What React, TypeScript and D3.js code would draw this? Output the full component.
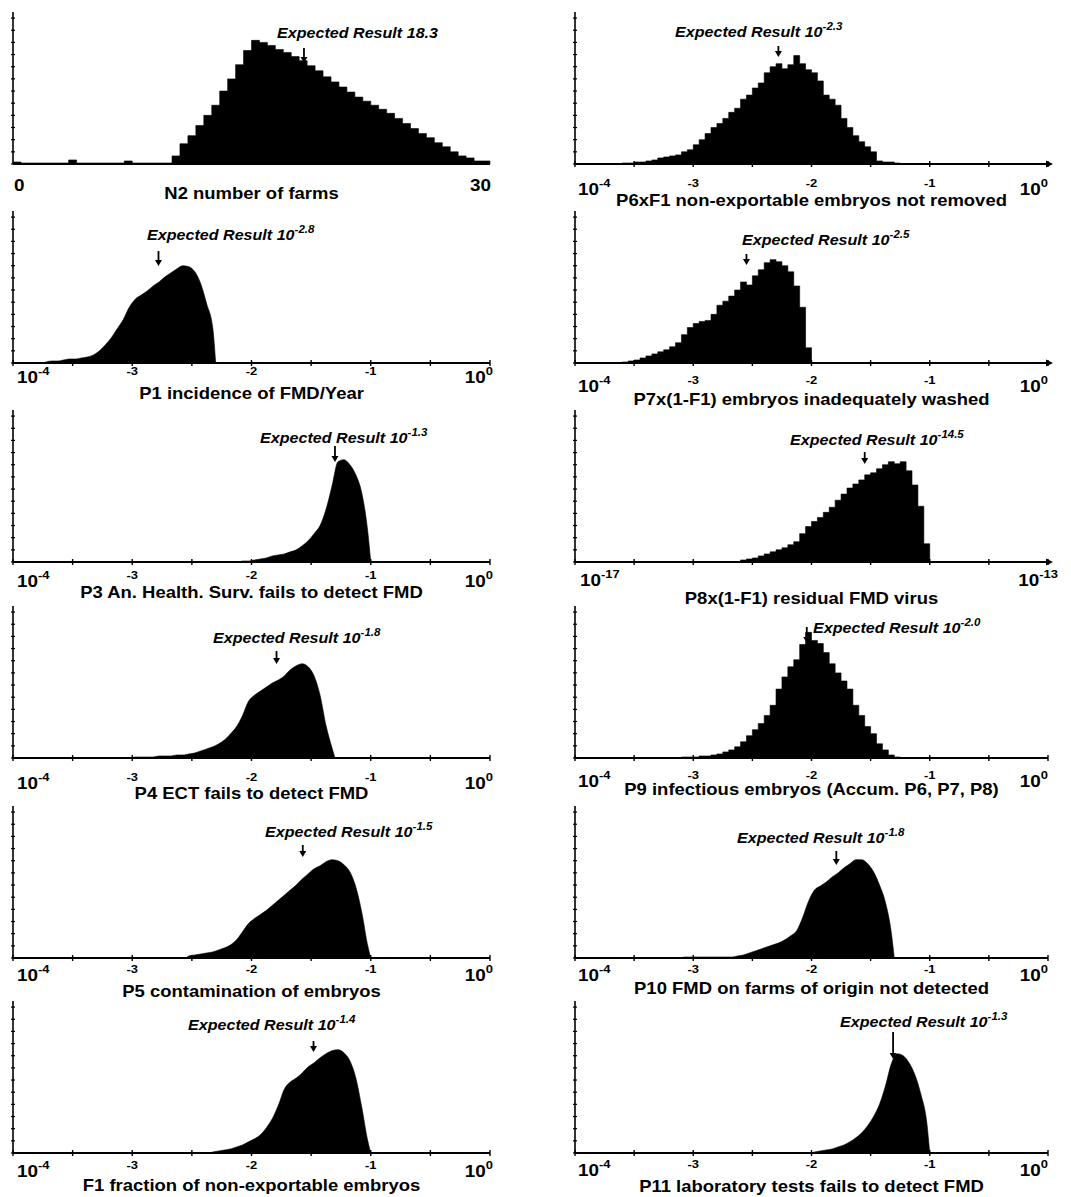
import React from "react";
import * as d3 from "d3";

// ---------- DATA (histogram heights, arbitrary count units; x in log10 for log panels) ----------
const N2_START = 0;
const N2_BIN = 0.5;
const N2_COUNTS = [
  2, 1, 1, 1, 1, 1, 1, 4, 1, 1, 1, 1, 1, 1, 3, 1, 1, 1, 1, 1,
  8, 20, 28, 38, 48, 58, 72, 84, 98, 112,
  122, 120, 117, 113, 110, 106, 102, 97, 92, 86,
  81, 76, 71, 66, 62, 58, 54, 50, 45, 40,
  35, 30, 26, 21, 17, 12, 8, 6, 3, 3,
];

const LOG_BIN = 0.05;

const P1_START = -3.75;
const P1_COUNTS = [1, 2, 2, 3, 4, 4, 5, 6, 8, 12, 18, 25, 34, 43, 55, 63, 67, 71, 76, 80, 85, 89, 93, 96, 95, 90, 78, 58, 35];

const P3_START = -2.1;
const P3_COUNTS = [1, 1, 2, 3, 4, 6, 7, 8, 10, 12, 16, 21, 28, 36, 52, 75, 99, 101, 96, 86, 68, 30];

const P4_START = -3.0;
const P4_COUNTS = [1, 1, 1, 1, 2, 2, 2, 3, 3, 4, 5, 7, 9, 11, 14, 18, 24, 31, 42, 56, 62, 66, 70, 74, 77, 81, 87, 91, 93, 90, 81, 62, 32, 10];

const P5_START = -2.55;
const P5_COUNTS = [2, 3, 4, 5, 6, 8, 10, 13, 18, 26, 34, 39, 43, 47, 52, 57, 62, 67, 72, 78, 83, 88, 91, 95, 97, 96, 92, 85, 70, 45, 12];

const F1_START = -2.35;
const F1_COUNTS = [1, 2, 3, 4, 6, 8, 11, 14, 18, 25, 34, 47, 63, 70, 74, 79, 85, 89, 94, 98, 101, 102, 99, 91, 74, 45, 12];

const P6_START = -3.6;
const P6_COUNTS = [1, 1, 2, 2, 3, 4, 6, 7, 8, 9, 12, 14, 19, 24, 30, 36, 40, 45, 51, 55, 64, 68, 75, 80, 90, 96, 99, 94, 98, 107, 99, 93, 90, 82, 68, 64, 58, 45, 36, 28, 22, 17, 12, 3, 2, 2, 1];

const P7_START = -3.6;
const P7_COUNTS = [1, 2, 3, 5, 7, 9, 11, 13, 16, 20, 28, 35, 39, 41, 42, 48, 57, 61, 66, 72, 80, 77, 86, 92, 99, 102, 100, 96, 90, 76, 55, 15];

const P8_START = -15.6;
const P8_COUNTS = [2, 3, 4, 6, 8, 10, 12, 14, 17, 20, 28, 35, 40, 44, 49, 54, 61, 67, 73, 77, 81, 86, 88, 92, 96, 99, 97, 99, 90, 76, 55, 18];

const P9_START = -3.1;
const P9_COUNTS = [1, 1, 1, 2, 2, 3, 4, 6, 8, 11, 16, 22, 28, 34, 42, 52, 68, 80, 90, 97, 112, 124, 116, 113, 104, 93, 84, 76, 68, 52, 42, 31, 24, 14, 8, 3, 1];

const P10_START = -3.1;
const P10_COUNTS = [1, 1, 1, 1, 1, 1, 1, 1, 1, 2, 3, 5, 7, 9, 11, 13, 15, 18, 22, 27, 40, 56, 67, 71, 75, 80, 84, 89, 93, 97, 97, 93, 85, 72, 55, 25];

const P11_START = -2.0;
const P11_COUNTS = [1, 2, 3, 4, 6, 8, 11, 15, 20, 27, 36, 48, 66, 88, 98, 96, 89, 77, 58, 30];

const TITLES = [
  "N2 number of farms",
  "P6xF1 non-exportable embryos not removed",
  "P1 incidence of FMD/Year",
  "P7x(1-F1) embryos inadequately washed",
  "P3 An. Health. Surv. fails to detect FMD",
  "P8x(1-F1) residual FMD virus",
  "P4 ECT fails to detect FMD",
  "P9 infectious embryos (Accum. P6, P7, P8)",
  "P5 contamination of embryos",
  "P10 FMD on farms of origin not detected",
  "F1 fraction of non-exportable embryos",
  "P11 laboratory tests fails to detect FMD",
];

// expected results: text shown, and where the arrow points
const EXPECTED_TEXT = ["18.3", "-2.3", "-2.8", "-2.5", "-1.3", "-14.5", "-1.8", "-2.0", "-1.5", "-1.8", "-1.4", "-1.3"];
const EXPECTED_ARROW = [18.3, -2.28, -2.78, -2.55, -1.3, -14.55, -1.79, -2.04, -1.57, -1.79, -1.48, -1.31];

const LOG_DOMAIN: [number, number] = [-4, 0];
const P8_DOMAIN: [number, number] = [-17, -13];
const N2_DOMAIN: [number, number] = [0, 30];

// ---------- LAYOUT ----------
const W = 1071;
const H = 1197;
const COL_X: [number, number][] = [
  [13, 490],
  [575, 1048],
];
const ROW_BASE = [164, 363, 562, 758, 958, 1153];
const AXIS_H = 152;
const FONT = "'Liberation Sans', Arial, Helvetica, sans-serif";
const STRETCH_TITLE = 1.12;
const STRETCH_LABEL = 1.15;
const STRETCH_TICK = 1.18;

type Panel = {
  col: number;
  row: number;
  kind: "lin" | "log";
  smooth: boolean;
  domain: [number, number];
  start: number;
  bin: number;
  counts: number[];
  idx: number;
  labelX: number;
  labelY: number;
  arrowY: [number, number];
  interior: boolean;
  axisArrow: boolean;
  leftLabelDx: number;
  rightLabelDx: number;
  tickDy: number;
  titleDy: number;
};

const PANELS: Panel[] = [
  { col: 0, row: 0, kind: "lin", smooth: false, domain: N2_DOMAIN, start: N2_START, bin: N2_BIN, counts: N2_COUNTS, idx: 0, labelX: 277, labelY: 38, arrowY: [48, 62], interior: false, axisArrow: false, leftLabelDx: 1, rightLabelDx: 1, tickDy: 27, titleDy: 35 },
  { col: 1, row: 0, kind: "log", smooth: false, domain: LOG_DOMAIN, start: P6_START, bin: LOG_BIN, counts: P6_COUNTS, idx: 1, labelX: 675, labelY: 37, arrowY: [46, 56], interior: true, axisArrow: true, leftLabelDx: 3, rightLabelDx: 0, tickDy: 31, titleDy: 42 },
  { col: 0, row: 1, kind: "log", smooth: true, domain: LOG_DOMAIN, start: P1_START, bin: LOG_BIN, counts: P1_COUNTS, idx: 2, labelX: 147, labelY: 240, arrowY: [251, 265], interior: true, axisArrow: false, leftLabelDx: 4, rightLabelDx: 3, tickDy: 20, titleDy: 36 },
  { col: 1, row: 1, kind: "log", smooth: false, domain: LOG_DOMAIN, start: P7_START, bin: LOG_BIN, counts: P7_COUNTS, idx: 3, labelX: 742, labelY: 245, arrowY: [254, 264], interior: true, axisArrow: true, leftLabelDx: 3, rightLabelDx: 0, tickDy: 29, titleDy: 42 },
  { col: 0, row: 2, kind: "log", smooth: true, domain: LOG_DOMAIN, start: P3_START, bin: LOG_BIN, counts: P3_COUNTS, idx: 4, labelX: 260, labelY: 443, arrowY: [446, 461], interior: true, axisArrow: false, leftLabelDx: 4, rightLabelDx: 3, tickDy: 25, titleDy: 36 },
  { col: 1, row: 2, kind: "log", smooth: false, domain: P8_DOMAIN, start: P8_START, bin: LOG_BIN, counts: P8_COUNTS, idx: 5, labelX: 790, labelY: 445, arrowY: [452, 463], interior: false, axisArrow: true, leftLabelDx: 5, rightLabelDx: 10, tickDy: 24, titleDy: 42 },
  { col: 0, row: 3, kind: "log", smooth: true, domain: LOG_DOMAIN, start: P4_START, bin: LOG_BIN, counts: P4_COUNTS, idx: 6, labelX: 213, labelY: 643, arrowY: [651, 663], interior: true, axisArrow: false, leftLabelDx: 4, rightLabelDx: 3, tickDy: 31, titleDy: 41 },
  { col: 1, row: 3, kind: "log", smooth: false, domain: LOG_DOMAIN, start: P9_START, bin: LOG_BIN, counts: P9_COUNTS, idx: 7, labelX: 813, labelY: 633, arrowY: [627, 642], interior: true, axisArrow: false, leftLabelDx: 3, rightLabelDx: 0, tickDy: 29, titleDy: 37 },
  { col: 0, row: 4, kind: "log", smooth: true, domain: LOG_DOMAIN, start: P5_START, bin: LOG_BIN, counts: P5_COUNTS, idx: 8, labelX: 265, labelY: 837, arrowY: [845, 856], interior: true, axisArrow: false, leftLabelDx: 4, rightLabelDx: 3, tickDy: 23, titleDy: 39 },
  { col: 1, row: 4, kind: "log", smooth: true, domain: LOG_DOMAIN, start: P10_START, bin: LOG_BIN, counts: P10_COUNTS, idx: 9, labelX: 737, labelY: 843, arrowY: [851, 864], interior: true, axisArrow: false, leftLabelDx: 3, rightLabelDx: 0, tickDy: 23, titleDy: 36 },
  { col: 0, row: 5, kind: "log", smooth: true, domain: LOG_DOMAIN, start: F1_START, bin: LOG_BIN, counts: F1_COUNTS, idx: 10, labelX: 188, labelY: 1030, arrowY: [1041, 1051], interior: true, axisArrow: false, leftLabelDx: 4, rightLabelDx: 3, tickDy: 24, titleDy: 38 },
  { col: 1, row: 5, kind: "log", smooth: true, domain: LOG_DOMAIN, start: P11_START, bin: LOG_BIN, counts: P11_COUNTS, idx: 11, labelX: 840, labelY: 1027, arrowY: [1032, 1058], interior: true, axisArrow: false, leftLabelDx: 3, rightLabelDx: 0, tickDy: 23, titleDy: 39 },
];

function T(props: {
  x: number;
  y: number;
  sx?: number;
  anchor?: "start" | "middle" | "end";
  size: number;
  italic?: boolean;
  children: React.ReactNode;
}) {
  const { x, y, sx = 1, anchor = "start", size, italic, children } = props;
  return (
    <text
      transform={`translate(${x},${y}) scale(${sx},1)`}
      textAnchor={anchor}
      fontFamily={FONT}
      fontWeight="bold"
      fontStyle={italic ? "italic" : "normal"}
      fontSize={size}
      fill="#000"
    >
      {children}
    </text>
  );
}

function PanelView({ p }: { p: Panel }) {
  const [x0, x1] = COL_X[p.col];
  const base = ROW_BASE[p.row];
  const x = d3.scaleLinear().domain(p.domain).range([x0, x1]);
  const y = d3.scaleLinear().domain([0, 150]).range([base, base - AXIS_H]);
  const end = p.start + p.counts.length * p.bin;

  let d = "";
  if (p.smooth) {
    const pts: [number, number][] = [[p.start, 0]];
    p.counts.forEach((c, i) => pts.push([p.start + (i + 0.5) * p.bin, c]));
    pts.push([end, 0]);
    const area = d3
      .area<[number, number]>()
      .x((q) => x(q[0]))
      .y0(base)
      .y1((q) => Math.min(base, y(q[1])))
      .curve(d3.curveMonotoneX);
    d = area(pts) || "";
  } else {
    const pts: [number, number][] = p.counts.map((c, i) => [p.start + i * p.bin, c]);
    pts.push([end, 0]);
    const area = d3
      .area<[number, number]>()
      .x((q) => x(q[0]))
      .y0(base)
      .y1((q) => y(q[1]))
      .curve(d3.curveStepAfter);
    d = area(pts) || "";
  }

  const yTicks = d3.range(0, 151, 12);
  const xTicks = p.kind === "log" ? d3.range(p.domain[0], p.domain[1] + 1e-9, 0.5) : [];
  const decades = p.kind === "log" && p.interior ? d3.range(p.domain[0] + 1, p.domain[1]) : [];

  const ax = x(EXPECTED_ARROW[p.idx]);
  const [ay1, ay2] = p.arrowY;
  const expText = EXPECTED_TEXT[p.idx];
  const tickY = base + p.tickDy;
  const supY = -8;

  return (
    <g>
      <path d={d} fill="#000" stroke="#000" strokeWidth={0.6} />
      {/* y axis */}
      <line x1={x0} x2={x0} y1={base} y2={base - AXIS_H} stroke="#000" strokeWidth={1.6} />
      {yTicks.map((t) => (
        <line key={t} x1={x0 - 2} x2={x0 + 2} y1={y(t)} y2={y(t)} stroke="#000" strokeWidth={1.2} />
      ))}
      {/* x axis */}
      <line x1={x0} x2={x1} y1={base} y2={base} stroke="#000" strokeWidth={2.2} />
      {xTicks.map((t) => (
        <line key={t} x1={x(t)} x2={x(t)} y1={base - 3} y2={base + 3} stroke="#000" strokeWidth={1.4} />
      ))}
      {p.axisArrow && (
        <polygon points={`${x1 + 5},${base} ${x1 - 2},${base - 3.5} ${x1 - 2},${base + 3.5}`} fill="#000" />
      )}

      {/* tick labels */}
      {p.kind === "lin" ? (
        <>
          <T x={x0 + p.leftLabelDx} y={tickY} size={16} sx={STRETCH_TICK}>
            {p.domain[0]}
          </T>
          <T x={x1 + p.rightLabelDx} y={tickY} size={16} sx={STRETCH_TICK} anchor="end">
            {p.domain[1]}
          </T>
        </>
      ) : (
        <>
          <T x={x0 + p.leftLabelDx} y={tickY} size={16} sx={STRETCH_TICK}>
            10<tspan dy={supY} fontSize={11}>{p.domain[0]}</tspan>
          </T>
          <T x={x1 + p.rightLabelDx} y={tickY} size={16} sx={STRETCH_TICK} anchor="end">
            10<tspan dy={supY} fontSize={11}>{p.domain[1]}</tspan>
          </T>
          {decades.map((dd) => (
            <T key={dd} x={x(dd)} y={tickY + supY} size={11} sx={STRETCH_TICK} anchor="middle">
              {dd}
            </T>
          ))}
        </>
      )}

      {/* title */}
      <T x={(x0 + x1) / 2} y={base + p.titleDy} size={16.5} sx={STRETCH_TITLE} anchor="middle">
        {TITLES[p.idx]}
      </T>

      {/* expected result */}
      <T x={p.labelX} y={p.labelY} size={14} sx={STRETCH_LABEL} italic>
        {p.kind === "lin" ? (
          <>Expected Result {expText}</>
        ) : (
          <>
            Expected Result 10<tspan dy={-7} fontSize={10}>{expText}</tspan>
          </>
        )}
      </T>
      <line x1={ax} x2={ax} y1={ay1} y2={ay2 - 4} stroke="#000" strokeWidth={1.8} />
      <polygon points={`${ax - 3.5},${ay2 - 5} ${ax + 3.5},${ay2 - 5} ${ax},${ay2 + 1}`} fill="#000" />
    </g>
  );
}

export default function App() {
  return (
    <svg
      width={W}
      height={H}
      viewBox={`0 0 ${W} ${H}`}
      style={{ position: "absolute", left: 0, top: 0, background: "#fff" }}
    >
      <rect x={0} y={0} width={W} height={H} fill="#fff" />
      {PANELS.map((p) => (
        <PanelView key={p.idx} p={p} />
      ))}
    </svg>
  );
}
